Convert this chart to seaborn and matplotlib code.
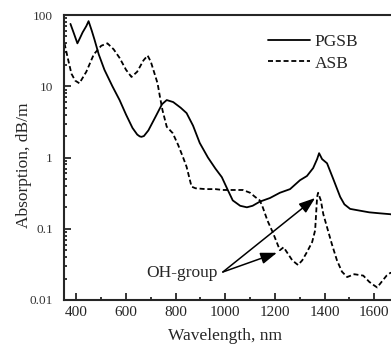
import numpy as np
import pandas as pd
import matplotlib
matplotlib.use("Agg")
import matplotlib.pyplot as plt
import seaborn as sns
from matplotlib.ticker import FixedLocator, FuncFormatter, LogLocator, MultipleLocator

# PGSB absorption (solid)
pgsb_wl = [376, 390, 404, 415, 425, 440, 449, 462, 473, 490, 513, 545, 574, 600, 626, 645,
           655, 662, 672, 690, 720, 745, 764, 790, 820, 844, 870, 897, 930, 960, 986,
           1010, 1030, 1060, 1087, 1110, 1139, 1180, 1220, 1261, 1301, 1329, 1354,
           1370, 1378, 1390, 1410, 1435, 1463, 1480, 1503, 1540, 1580, 1620, 1665, 1700]
pgsb_val = [75, 55, 40, 48, 57, 70, 82, 60, 45, 28, 17, 10, 6.4, 4.0, 2.6, 2.1,
            1.98, 1.95, 2.0, 2.4, 3.8, 5.6, 6.4, 6.0, 5.0, 4.2, 2.8, 1.6, 1.0, 0.7, 0.53,
            0.35, 0.25, 0.21, 0.2, 0.21, 0.24, 0.27, 0.32, 0.36, 0.48, 0.55, 0.71,
            0.95, 1.15, 0.95, 0.83, 0.5, 0.28, 0.22, 0.19, 0.18, 0.17, 0.165, 0.16, 0.15]

# ASB absorption (dashed)
asb_wl = [352, 365, 380, 395, 412, 440, 470, 500, 525, 550, 574, 600, 622, 645,
          670, 687, 700, 715, 727, 737, 747, 764, 788, 810, 830, 844, 864, 880,
          920, 960, 990, 1030, 1071, 1100, 1120, 1139, 1151, 1170, 1192, 1220,
          1235, 1248, 1270, 1293, 1310, 1329, 1350, 1362, 1370, 1374, 1385, 1395,
          1410, 1430, 1450, 1470, 1491, 1520, 1556, 1580, 1600, 1612, 1630, 1650,
          1665, 1700]
asb_val = [40, 25, 15, 12, 11, 16, 28, 37, 40, 33, 25, 17, 13.5, 16,
           23, 27, 22, 15, 11, 7, 4.6, 2.7, 2.2, 1.5, 1.0, 0.74, 0.39, 0.37,
           0.36, 0.36, 0.35, 0.35, 0.35, 0.32, 0.28, 0.25, 0.2, 0.13, 0.088, 0.05,
           0.055, 0.047, 0.036, 0.031, 0.036, 0.047, 0.065, 0.095, 0.28, 0.32, 0.25, 0.16,
           0.105, 0.06, 0.036, 0.025, 0.021, 0.023, 0.022, 0.018, 0.016, 0.015, 0.018, 0.022,
           0.024, 0.025]

x_ticks = [400, 600, 800, 1000, 1200, 1400, 1600]
y_ticks = [0.01, 0.1, 1, 10, 100]

label_text = "OH-group"
label_pos = (683, 0.024)
arrow_start = (990, 0.0247)
arrow_ends = [(1362, 0.27), (1208, 0.046)]

df = pd.concat([
    pd.DataFrame({"wl": pgsb_wl, "val": pgsb_val, "sample": "PGSB"}),
    pd.DataFrame({"wl": asb_wl, "val": asb_val, "sample": "ASB"}),
])

sns.set_style("ticks")
plt.rcParams["font.family"] = ["Liberation Serif", "DejaVu Serif"]
plt.rcParams["lines.scale_dashes"] = False

fig = plt.figure(figsize=(3.91, 3.46), dpi=100)
ax = fig.add_axes([64 / 391, 1 - 300 / 346, 335 / 391, 285 / 346])

sns.lineplot(data=df, x="wl", y="val", hue="sample", style="sample",
             palette={"PGSB": "black", "ASB": "black"},
             dashes={"PGSB": "", "ASB": (3.6, 2.0)},
             sort=False, estimator=None, lw=1.3, ax=ax)

ax.set_yscale("log")
ax.set_xlim(350, 1700)
ax.set_ylim(0.01, 100)

ax.xaxis.set_major_locator(FixedLocator(x_ticks))
ax.xaxis.set_minor_locator(MultipleLocator(100))
ax.yaxis.set_major_locator(FixedLocator(y_ticks))
ax.yaxis.set_minor_locator(LogLocator(base=10, subs=np.arange(2, 10)))
ax.yaxis.set_major_formatter(FuncFormatter(lambda v, p: f"{v:g}"))
ax.yaxis.set_minor_formatter(FuncFormatter(lambda v, p: ""))

ax.tick_params(axis="both", which="both", direction="in", width=1.3)
ax.tick_params(axis="both", which="major", length=5)
ax.tick_params(axis="both", which="minor", length=2.5)
ax.tick_params(axis="x", which="major", labelsize=11, pad=4)
ax.tick_params(axis="y", which="major", labelsize=9.5, pad=8, labelcolor="#333333")

for s in ax.spines.values():
    s.set_linewidth(1.5)

ax.set_xlabel("Wavelength, nm", fontsize=12.5)
ax.set_ylabel("Absorption, dB/m", fontsize=12.5)
ax.xaxis.set_label_coords(0.48, -0.1)
ax.yaxis.set_label_coords(-0.095, 0.474)

# OH-group annotation
ax.text(label_pos[0], label_pos[1], label_text, fontsize=12.5, ha="left", va="center")
for end in arrow_ends:
    ax.annotate("", xy=end, xytext=arrow_start,
                arrowprops=dict(arrowstyle="-|>,head_length=0.7,head_width=0.25",
                                color="black", lw=1.1, mutation_scale=14,
                                shrinkA=0, shrinkB=0))

leg = ax.legend(loc="upper left", bbox_to_anchor=(268 / 391, 1 - 34 / 346),
                bbox_transform=fig.transFigure, frameon=False, fontsize=12.5,
                handlelength=2.4, handletextpad=0.3, labelspacing=0.3,
                borderpad=0, borderaxespad=0)
leg.set_title(None)

fig.savefig("out.png", dpi=100)
